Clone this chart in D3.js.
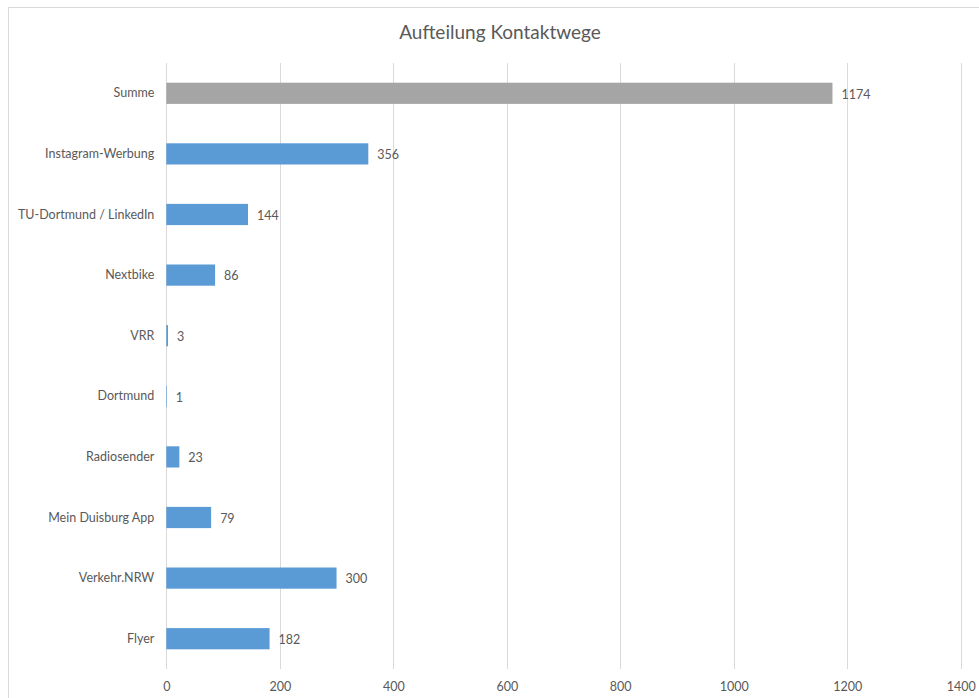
<!DOCTYPE html>
<html>
<head>
<meta charset="utf-8">
<script src="https://cdn.jsdelivr.net/npm/d3@7"></script>
<style>
  body { margin: 0; background: #fff; }
  svg { display: block; }
  text { font-family: Lato, "Open Sans", sans-serif; fill: #595959; }
</style>
</head>
<body>
<div class="chart"></div>
<script>
// data
const categories = ["Summe", "Instagram-Werbung", "TU-Dortmund / LinkedIn", "Nextbike", "VRR",
                    "Dortmund", "Radiosender", "Mein Duisburg App", "Verkehr.NRW", "Flyer"];
const values = [1174, 356, 144, 86, 3, 1, 23, 79, 300, 182];
const xTicks = [0, 200, 400, 600, 800, 1000, 1200, 1400];

let svgWidth = 979;
let svgHeight = 698;

let svg = d3.select(".chart")
            .append("svg")
            .attr("width", svgWidth)
            .attr("height", svgHeight);

// chart frame (runs off the page on right and bottom)
svg.append("rect")
   .attr("x", 8.5).attr("y", 7.5)
   .attr("width", 1000).attr("height", 1000)
   .attr("fill", "#fff")
   .attr("stroke", "#d9d9d9");

const plot = {left: 166.3, right: 960.7, top: 63, bottom: 669};

let x = d3.scaleLinear()
          .domain([0, 1400])
          .range([plot.left, plot.right]);

let y = d3.scaleBand()
          .domain(categories)
          .range([plot.top, plot.bottom])
          .paddingInner(0.65)
          .paddingOuter(0.325);

// title
svg.append("text")
   .attr("x", 500).attr("y", 39)
   .attr("text-anchor", "middle")
   .attr("font-size", "19px")
   .text("Aufteilung Kontaktwege");

// gridlines
svg.append("g")
   .selectAll("line")
   .data(xTicks)
   .enter().append("line")
   .attr("x1", d => Math.round(x(d)) + 0.5)
   .attr("x2", d => Math.round(x(d)) + 0.5)
   .attr("y1", plot.top)
   .attr("y2", plot.bottom)
   .attr("stroke", "#d9d9d9")
   .attr("stroke-width", 1);

// bottom axis
let bottomAxis = d3.axisBottom(x).tickValues(xTicks).tickFormat(d3.format("d"))
                   .tickSize(0).tickPadding(13);
let gx = svg.append("g")
   .attr("transform", `translate(0,${plot.bottom})`)
   .call(bottomAxis);
gx.select(".domain").remove();
gx.selectAll("text").attr("font-size", "12.5px").attr("fill", "#595959")
  .style("font-family", "Lato, 'Open Sans', sans-serif");

// left axis
let leftAxis = d3.axisLeft(y).tickSize(0).tickPadding(12);
let gy = svg.append("g")
   .attr("transform", `translate(${plot.left},0)`)
   .call(leftAxis);
gy.select(".domain").remove();
gy.selectAll("text").attr("font-size", "12.5px").attr("fill", "#595959")
  .style("font-family", "Lato, 'Open Sans', sans-serif");

// bars
svg.append("g")
   .selectAll("rect")
   .data(categories)
   .enter().append("rect")
   .attr("x", x(0))
   .attr("y", d => y(d))
   .attr("width", (d, i) => x(values[i]) - x(0))
   .attr("height", y.bandwidth())
   .attr("fill", (d, i) => i === 0 ? "#a5a5a5" : "#5b9bd5");

// value labels
svg.append("g")
   .selectAll("text")
   .data(categories)
   .enter().append("text")
   .attr("x", (d, i) => x(values[i]) + 9)
   .attr("y", d => y(d) + y.bandwidth() / 2 + 1)
   .attr("dy", "0.35em")
   .attr("font-size", "12.5px")
   .attr("fill", "#404040")
   .text((d, i) => values[i]);
</script>
</body>
</html>
